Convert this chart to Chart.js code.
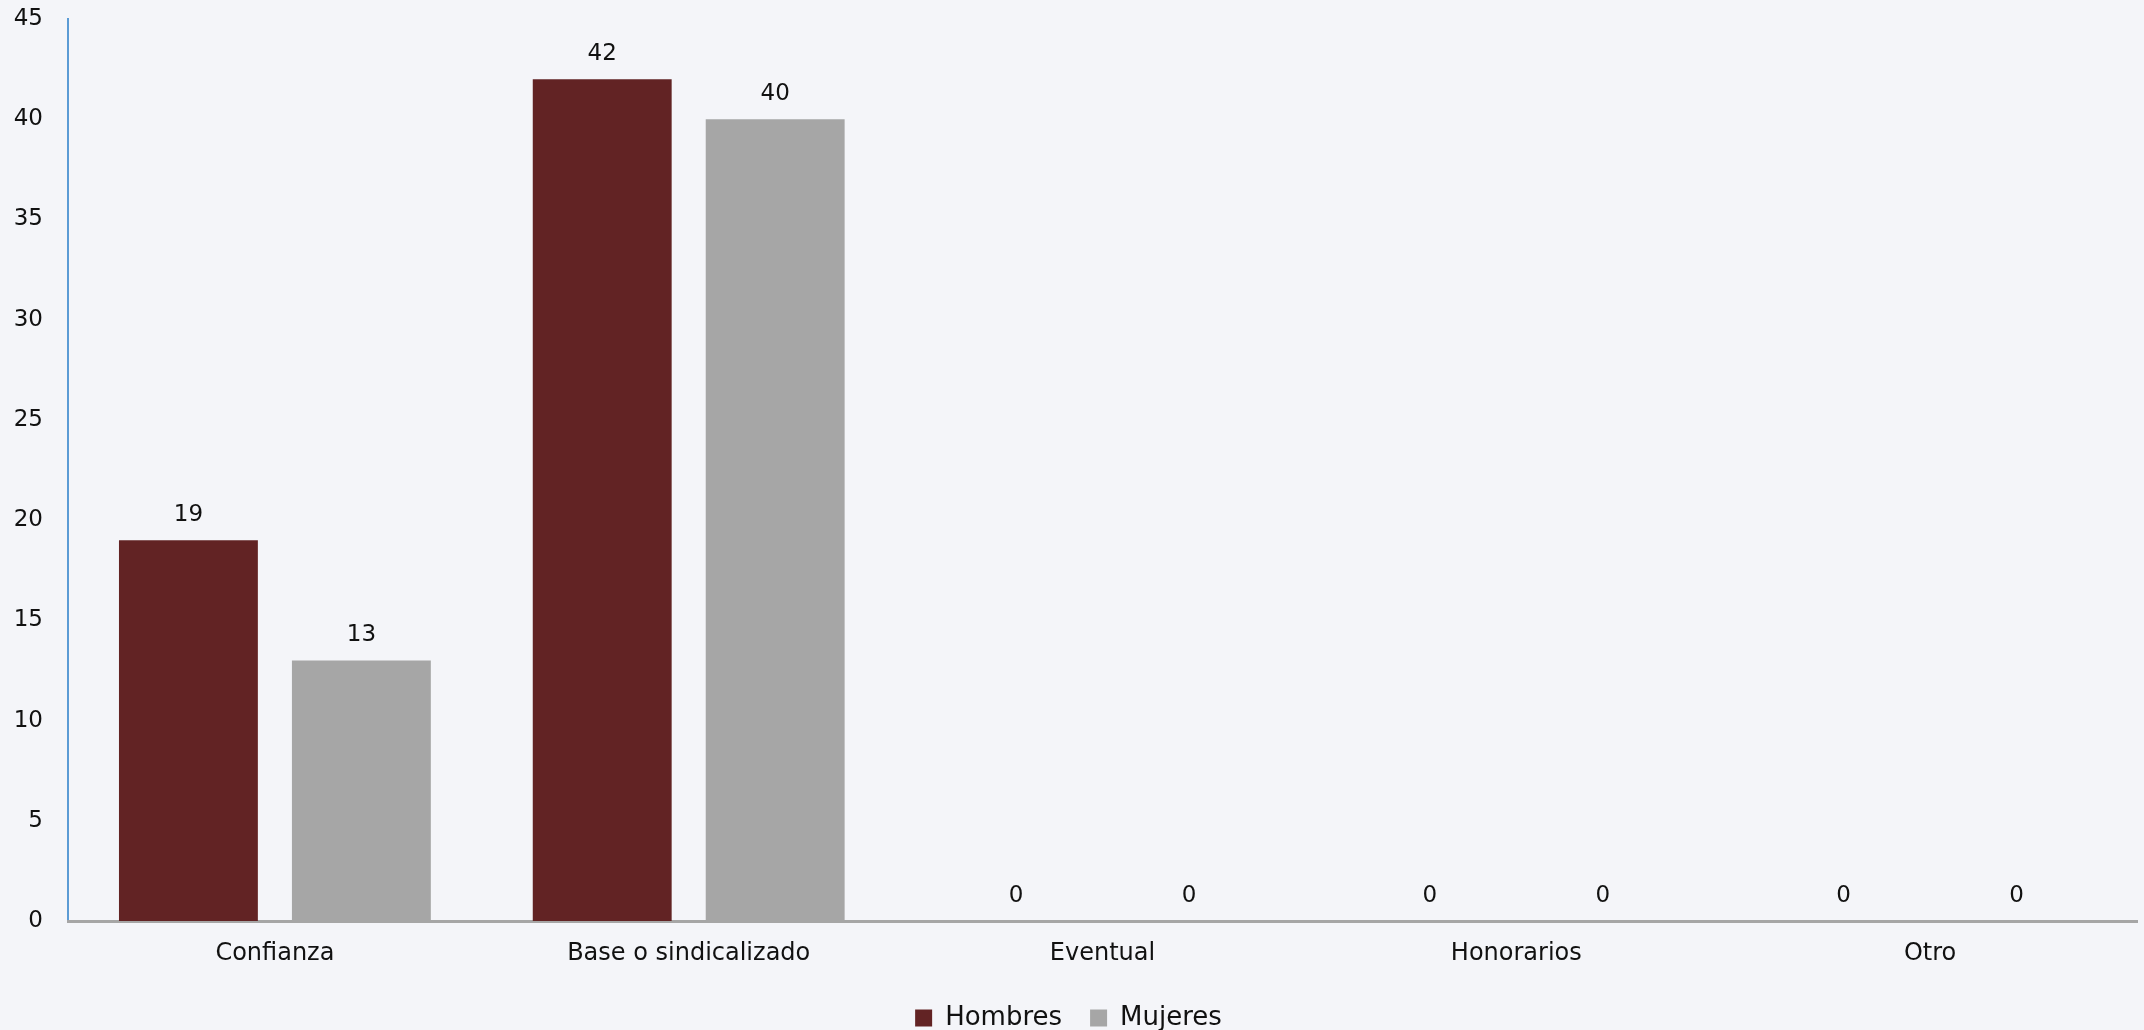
<!DOCTYPE html>
<html>
<head>
<meta charset="utf-8">
<script src="https://cdn.jsdelivr.net/npm/chart.js@4"></script>
<style>
    html, body { margin: 0; padding: 0; background: #f4f5f9; }
    #wrap { width: 2144px; height: 1030px; position: relative; }
</style>
</head>
<body>
<div id="wrap"><canvas id="tipoChart"></canvas></div>
<script>
// datos
var categorias = ['Confianza', 'Base o sindicalizado', 'Eventual', 'Honorarios', 'Otro'];
var hombres = [19, 42, 0, 0, 0];
var mujeres = [13, 40, 0, 0, 0];
var ticksY = [0, 5, 10, 15, 20, 25, 30, 35, 40, 45];

var FUENTE = '"DejaVu Sans", Verdana, sans-serif';

/**
 * Etiquetas de valor encima de cada barra
 */
var etiquetasValor = {
    id: 'etiquetasValor',
    afterDatasetsDraw: function(chart) {
        var ctx = chart.ctx;
        ctx.save();
        ctx.font = '23px ' + FUENTE;
        ctx.fillStyle = '#111111';
        ctx.textAlign = 'center';
        ctx.textBaseline = 'middle';
        chart.data.datasets.forEach(function(ds, i) {
            chart.getDatasetMeta(i).data.forEach(function(bar, j) {
                ctx.fillText(String(ds.data[j]), bar.x, bar.y - 25);
            });
        });
        ctx.restore();
    }
};

new Chart(document.getElementById('tipoChart'), {
    type: 'bar',
    data: {
        labels: categorias,
        datasets: [{
            label: 'Hombres',
            data: hombres,
            backgroundColor: '#622324',
            categoryPercentage: 0.836,
            barPercentage: 0.803
        }, {
            label: 'Mujeres',
            data: mujeres,
            backgroundColor: '#a6a6a6',
            categoryPercentage: 0.836,
            barPercentage: 0.803
        }]
    },
    options: {
        responsive: true,
        maintainAspectRatio: false,
        animation: false,
        layout: {
            padding: { top: 19, right: 7, left: 0, bottom: -11 }
        },
        plugins: {
            legend: {
                display: true,
                position: 'bottom',
                labels: {
                    color: '#111111',
                    font: { size: 26, family: FUENTE },
                    boxWidth: 17,
                    boxHeight: 17,
                    padding: 28
                }
            },
            tooltip: { enabled: false }
        },
        scales: {
            y: {
                min: 0,
                max: 45,
                afterFit: function(scale) { scale.width = 68; },
                afterBuildTicks: function(scale) {
                    scale.ticks = ticksY.map(function(v) { return { value: v }; });
                },
                ticks: {
                    color: '#111111',
                    padding: 0,
                    font: { size: 23, family: FUENTE }
                },
                // marcas invisibles: solo separan las etiquetas del eje
                grid: { display: false, drawTicks: true, tickLength: 25 },
                border: { display: true, color: '#5b9bd5', width: 2 }
            },
            x: {
                afterFit: function(scale) { scale.height = 56; },
                ticks: {
                    color: '#111111',
                    padding: 18,
                    font: { size: 24, family: FUENTE }
                },
                grid: { display: false, drawTicks: false },
                border: { display: true, color: '#a6a6a6', width: 3 }
            }
        }
    },
    plugins: [etiquetasValor]
});
</script>
</body>
</html>
